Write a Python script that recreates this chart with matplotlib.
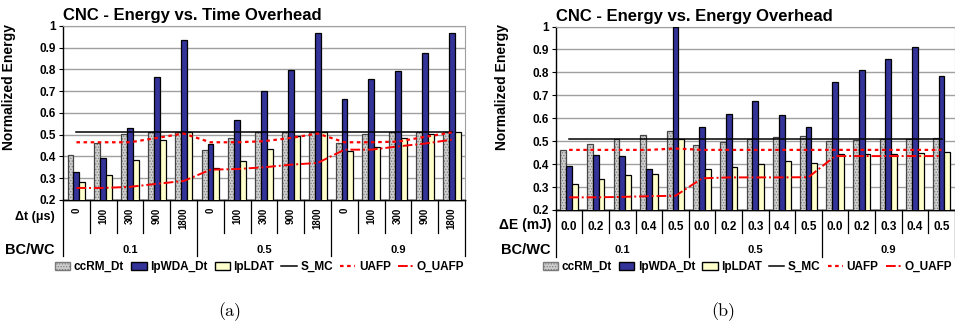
"""
CNC normalized energy: time overhead (a) and energy overhead (b).
"""

import numpy as np
import matplotlib
matplotlib.use("Agg")
import matplotlib.pyplot as plt
from matplotlib.patches import Patch
from matplotlib.lines import Line2D

# ---------------------------------------------------------------------------
# Data
# ---------------------------------------------------------------------------
BC_WC = ["0.1", "0.5", "0.9"]
DT_LABELS = ["0", "100", "300", "900", "1800"]
DE_LABELS = ["0.0", "0.2", "0.3", "0.4", "0.5"]

# (a) energy vs. time overhead
a_ccrm = [0.407, 0.462, 0.505, 0.51, 0.51,
          0.430, 0.485, 0.51, 0.51, 0.51,
          0.462, 0.503, 0.51, 0.51, 0.51]
a_lpwda = [0.327, 0.393, 0.531, 0.767, 0.933,
           0.459, 0.566, 0.702, 0.798, 0.966,
           0.664, 0.758, 0.794, 0.875, 0.968]
a_lpldat = [0.281, 0.315, 0.385, 0.477, 0.51,
            0.347, 0.379, 0.436, 0.495, 0.51,
            0.423, 0.443, 0.485, 0.505, 0.51]
a_smc = [0.51] * 15
a_uafp = [0.465, 0.465, 0.465, 0.485, 0.505,
          0.465, 0.465, 0.47, 0.485, 0.505,
          0.465, 0.465, 0.468, 0.49, 0.51]
a_ouafp = [0.255, 0.255, 0.26, 0.274, 0.287,
           0.339, 0.342, 0.35, 0.362, 0.37,
           0.431, 0.431, 0.446, 0.459, 0.477]

# (b) energy vs. energy overhead
b_ccrm = [0.462, 0.488, 0.51, 0.527, 0.543,
          0.485, 0.497, 0.508, 0.52, 0.523,
          0.502, 0.504, 0.508, 0.508, 0.515]
b_lpwda = [0.393, 0.441, 0.434, 0.377, 1.0,
           0.563, 0.619, 0.676, 0.613, 0.562,
           0.758, 0.81, 0.86, 0.91, 0.783]
b_lpldat = [0.314, 0.335, 0.351, 0.355, 0.51,
            0.377, 0.389, 0.40, 0.412, 0.403,
            0.443, 0.445, 0.445, 0.448, 0.451]
b_smc = [0.51] * 15
b_uafp = [0.462, 0.462, 0.462, 0.462, 0.468,
          0.462, 0.462, 0.462, 0.462, 0.462,
          0.462, 0.462, 0.462, 0.462, 0.462]
b_ouafp = [0.255, 0.255, 0.257, 0.26, 0.262,
           0.338, 0.342, 0.342, 0.342, 0.343,
           0.435, 0.435, 0.435, 0.435, 0.435]

Y_TICKS = [0.2, 0.3, 0.4, 0.5, 0.6, 0.7, 0.8, 0.9, 1.0]

# ---------------------------------------------------------------------------
# Style
# ---------------------------------------------------------------------------
plt.rcParams["font.family"] = ["Liberation Sans", "DejaVu Sans"]
plt.rcParams["font.weight"] = "bold"
plt.rcParams["hatch.linewidth"] = 0.6

GREY = "#cfcfcf"
NAVY = "#333399"
YELLOW = "#ffffcc"
RED = "#ff0000"
UAFP_DASH = (1.6, 1.6)
OUAFP_DASH = (5, 1.5, 1, 1.5)


def draw_panel(ax, ccrm, lpwda, lpldat, smc, uafp, ouafp, title,
               sub_labels, sub_name, sub_rot, layout):
    n = len(ccrm)
    x = np.arange(n)
    w = 0.22

    # ccRM: dotted grey fill with an outline on top
    ax.bar(x - w, ccrm, w, bottom=0, color=GREY, hatch="......",
           edgecolor="#7a7a7a", linewidth=0, zorder=3)
    ax.bar(x - w, ccrm, w, facecolor="none", edgecolor="#444444",
           linewidth=0.9, zorder=3)
    ax.bar(x, lpwda, w, color=NAVY, edgecolor="black", linewidth=0.9, zorder=3)
    ax.bar(x + w, lpldat, w, color=YELLOW, edgecolor="black", linewidth=0.9, zorder=3)

    ax.plot(x, smc, color="black", lw=1.1, zorder=4)
    ax.plot(x, uafp, color=RED, lw=1.6, dashes=UAFP_DASH, zorder=4)
    ax.plot(x, ouafp, color=RED, lw=1.4, dashes=OUAFP_DASH, zorder=4)

    ax.set_xlim(-0.5, n - 0.5)
    ax.set_ylim(0.2, 1.0)
    ax.set_yticks(Y_TICKS)
    ax.set_yticklabels([f"{t:g}" for t in Y_TICKS], fontsize=8.5, fontweight="bold")
    ax.tick_params(axis="y", length=3, width=0.8, pad=2)
    ax.set_xticks([])
    ax.grid(axis="y", color="#a0a0a0", lw=1.0, zorder=0)
    for side in ("top", "right"):
        ax.spines[side].set_color("#a0a0a0")
    for side in ("left", "bottom"):
        ax.spines[side].set_color("black")
        ax.spines[side].set_linewidth(1.0)

    ax.set_title(title, loc="left", fontsize=12, fontweight="bold", pad=4)
    ax.set_ylabel("Normalized Energy", fontsize=10, fontweight="bold")
    ax.yaxis.set_label_coords(-0.117, layout["ylab_y"])

    # two-level category axis below the plot
    tr = ax.get_xaxis_transform()
    row1, row2 = layout["row1"], layout["row2"]
    per = len(sub_labels)
    for b in range(n + 1):
        bottom = row2 if b % per == 0 else row1
        ax.plot([b - 0.5, b - 0.5], [0, bottom], transform=tr, color="black",
                lw=0.9, clip_on=False)
    ax.plot([-0.5, n - 0.5], [0, 0], transform=tr, color="black", lw=1.0,
            clip_on=False)
    for i in range(n):
        lab = sub_labels[i % per]
        if sub_rot:
            ax.text(i, layout["lab_y"], lab, transform=tr, rotation=90,
                    ha="center", va="top", fontsize=7, fontweight="bold")
        else:
            ax.text(i, layout["lab_y"], lab, transform=tr, ha="center",
                    va="center", fontsize=8.5, fontweight="bold")
    for g, name in enumerate(BC_WC):
        ax.text(g * per + (per - 1) / 2, layout["grp_y"], name, transform=tr,
                ha="center", va="center", fontsize=8, fontweight="bold")

    ax.text(layout["name_x"], layout["sub_y"], sub_name, transform=ax.transAxes,
            ha="right", va="center", fontsize=layout["sub_fs"], fontweight="bold")
    ax.text(layout["name_x"], layout["grp_y"], "BC/WC", transform=ax.transAxes,
            ha="right", va="center", fontsize=10.5, fontweight="bold")

    handles = [
        Patch(facecolor=GREY, edgecolor="#7a7a7a", hatch="......"),
        Patch(facecolor=NAVY, edgecolor="black"),
        Patch(facecolor=YELLOW, edgecolor="black"),
        Line2D([], [], color="black", lw=1.1),
        Line2D([], [], color=RED, lw=1.6, dashes=UAFP_DASH),
        Line2D([], [], color=RED, lw=1.4, dashes=OUAFP_DASH),
    ]
    labels = ["ccRM_Dt", "lpWDA_Dt", "lpLDAT", "S_MC", "UAFP", "O_UAFP"]
    ax.legend(handles, labels, loc="center", ncol=6, frameon=False,
              bbox_to_anchor=(layout["leg_x"], layout["leg_y"]),
              prop={"size": 8.5, "weight": "bold"}, handlelength=1.3,
              handleheight=0.7, handletextpad=0.3, columnspacing=0.6,
              borderaxespad=0)


fig = plt.figure(figsize=(9.55, 3.24), dpi=100)
ax_a = fig.add_axes([0.066, 0.383, 0.421, 0.537])
ax_b = fig.add_axes([0.582, 0.352, 0.4178, 0.566])

draw_panel(ax_a, a_ccrm, a_lpwda, a_lpldat, a_smc, a_uafp, a_ouafp,
           "CNC - Energy vs. Time Overhead", DT_LABELS, "\u0394t (\u03bcs)", True,
           dict(row1=-0.19, row2=-0.32, lab_y=-0.046, grp_y=-0.287,
                sub_y=-0.098, sub_fs=9, name_x=-0.02, ylab_y=0.65,
                leg_x=0.489, leg_y=-0.385))
draw_panel(ax_b, b_ccrm, b_lpwda, b_lpldat, b_smc, b_uafp, b_ouafp,
           "CNC - Energy vs. Energy Overhead", DE_LABELS, "\u0394E (mJ)", False,
           dict(row1=-0.126, row2=-0.256, lab_y=-0.093, grp_y=-0.218,
                sub_y=-0.082, sub_fs=10, name_x=-0.012, ylab_y=0.67,
                leg_x=0.48, leg_y=-0.311))

fig.text(230 / 955, 1 - 312 / 324, "(a)", family="cmr10", fontsize=13,
         fontweight="normal", ha="center", va="center")
fig.text(723 / 955, 1 - 312 / 324, "(b)", family="cmr10", fontsize=13,
         fontweight="normal", ha="center", va="center")

fig.savefig("out.png", dpi=100)
